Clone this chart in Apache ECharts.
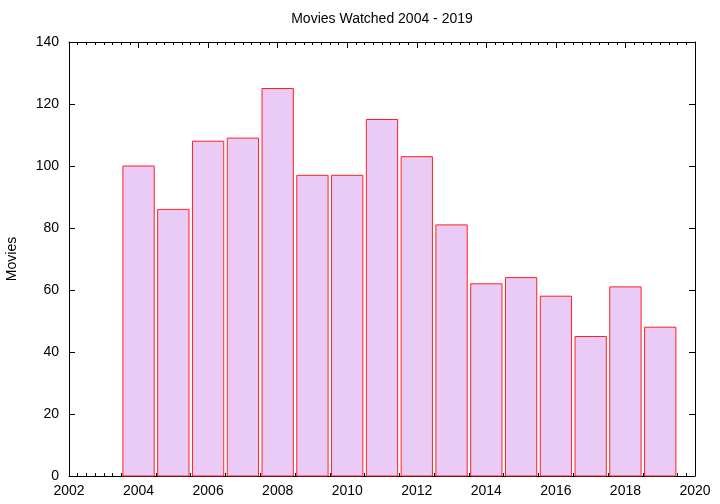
<!DOCTYPE html>
<html>
<head>
<meta charset="utf-8">
<script src="https://cdn.jsdelivr.net/npm/echarts@6/dist/echarts.min.js"></script>
<style>
html,body{margin:0;padding:0;background:#fff;}
#chart{width:720px;height:504px;}
</style>
</head>
<body>
<div id="chart"></div>
<script>
var years = [2004, 2005, 2006, 2007, 2008, 2009, 2010, 2011, 2012, 2013, 2014, 2015, 2016, 2017, 2018, 2019];
var movies = [100, 86, 108, 109, 125, 97, 97, 115, 103, 81, 62, 64, 58, 45, 61, 48];
var titleText = 'Movies Watched 2004 - 2019';
var yName = 'Movies';

var data = years.map(function (y, i) { return [y, movies[i]]; });
var FONT = '"Liberation Sans", Arial, sans-serif';
var chart = echarts.init(document.getElementById('chart'), null, {renderer: 'canvas'});
var axisLineStyle = {color: '#000', width: 1};
chart.setOption({
  animation: false,
  backgroundColor: '#fff',
  title: {
    text: titleText,
    left: 382,
    textAlign: 'center',
    top: 12,
    padding: 0,
    textStyle: {fontFamily: FONT, fontSize: 14, fontWeight: 'normal', color: '#000'}
  },
  grid: {left: 69, right: 25, top: 42, bottom: 28, containLabel: false, outerBoundsMode: 'none'},
  xAxis: [{
    type: 'value', position: 'bottom', min: 2002, max: 2020, interval: 2,
    axisLine: {show: true, onZero: false, lineStyle: axisLineStyle},
    axisTick: {show: true, inside: true, length: 6, lineStyle: {color: '#000'}},
    minorTick: {show: true, splitNumber: 8, length: 3, lineStyle: {color: '#000'}},
    axisLabel: {show: true, margin: 8, color: '#000', fontFamily: FONT, fontSize: 14,
      formatter: function (v) { return String(v); }},
    splitLine: {show: false}
  }, {
    type: 'value', position: 'top', min: 2002, max: 2020, interval: 2,
    axisLine: {show: true, onZero: false, lineStyle: axisLineStyle},
    axisTick: {show: true, inside: true, length: 6, lineStyle: {color: '#000'}},
    minorTick: {show: true, splitNumber: 8, length: 3, lineStyle: {color: '#000'}},
    axisLabel: {show: false},
    splitLine: {show: false}
  }],
  yAxis: [{
    type: 'value', position: 'left', min: 0, max: 140, interval: 20,
    name: yName, nameLocation: 'middle', nameGap: 50, nameRotate: 90,
    nameTextStyle: {fontFamily: FONT, fontSize: 14, color: '#000'},
    axisLine: {show: true, onZero: false, lineStyle: axisLineStyle},
    axisTick: {show: true, inside: true, length: 6, lineStyle: {color: '#000'}},
    axisLabel: {show: true, margin: 10, color: '#000', fontFamily: FONT, fontSize: 14},
    splitLine: {show: false}
  }, {
    type: 'value', position: 'right', min: 0, max: 140, interval: 20,
    axisLine: {show: true, onZero: false, lineStyle: axisLineStyle},
    axisTick: {show: true, inside: true, length: 6, lineStyle: {color: '#000'}},
    axisLabel: {show: false},
    splitLine: {show: false}
  }],
  series: [{
    type: 'custom',
    xAxisIndex: 0,
    yAxisIndex: 0,
    data: data,
    renderItem: function (params, api) {
      var x = api.value(0), y = api.value(1);
      var p0 = api.coord([x - 0.45, y]);
      var p1 = api.coord([x + 0.45, 0]);
      return {
        type: 'rect',
        shape: {x: p0[0], y: p0[1], width: p1[0] - p0[0], height: p1[1] - p0[1]},
        style: {fill: '#eacbf5', stroke: '#ff2020', lineWidth: 1}
      };
    }
  }]
});
</script>
</body>
</html>
